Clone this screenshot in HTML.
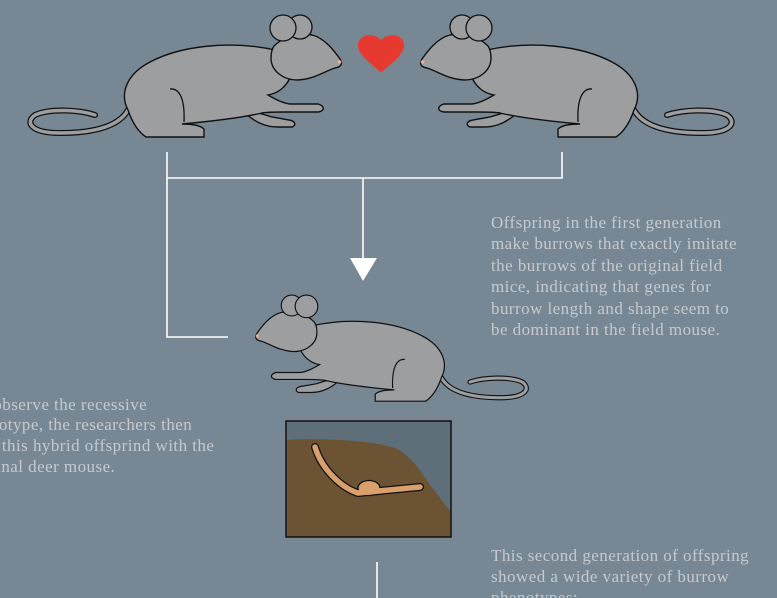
<!DOCTYPE html>
<html><head><meta charset="utf-8"><style>
html,body{margin:0;padding:0;background:#778894;width:777px;height:598px;overflow:hidden}
svg{display:block}
text{font-family:"Liberation Serif",serif;font-size:17px;letter-spacing:0.45px;fill:#c6cace}
</style></head><body>
<svg width="777" height="598" viewBox="0 0 777 598">
<defs>
<g id="mouse">
  <path d="M128,110 C118,128 90,133 60,133 C30,133 25,122 35,115 C50,108 80,110 95,115" fill="none" stroke="#111" stroke-width="6" stroke-linecap="round"/>
  <path d="M128,110 C118,128 90,133 60,133 C30,133 25,122 35,115 C50,108 80,110 95,115" fill="none" stroke="#9d9ea0" stroke-width="3.5" stroke-linecap="round"/>
  <path d="M245,113 C255,122 265,127 278,127 L292,127 C297,125 295,121 289,120 L272,117 C262,114 255,112 250,110 Z" fill="#9d9ea0" stroke="#111" stroke-width="1.4"/>
  <path d="M290,78 C285,88 278,93 268,95 C275,99 282,103 290,104 L318,104 C325,106 325,111 318,112 L285,112 C275,112 268,112 262,113 C245,117 215,121 182,124 C192,124 200,125 204,129 L204,137 L146,137 C140,133 133,125 128,110 C120,95 125,75 150,62 C180,46 230,40 275,50 Z" fill="#9d9ea0" stroke="#111" stroke-width="1.4"/>
  <path d="M170,89 C180,88 185,100 184,122" fill="none" stroke="#111" stroke-width="1.3"/>
  <path d="M274,46 C285,35 300,33 312,35 C325,38 335,52 340,59 C343,64 341,67 335,68 C325,71 315,79 298,80 C282,80 271,70 271,58 C271,53 272,49 274,46 Z" fill="#9d9ea0" stroke="#111" stroke-width="1.4"/>
  <circle cx="300" cy="27" r="12" fill="#9d9ea0" stroke="#111" stroke-width="1.3"/>
  <circle cx="283" cy="28" r="13" fill="#9d9ea0" stroke="#111" stroke-width="1.3"/>
  <circle cx="339.5" cy="62" r="1.8" fill="#e8b090"/>
</g>
</defs>
<use href="#mouse"/>
<use href="#mouse" transform="translate(762,0) scale(-1,1)"/>
<path d="M381,70 C372,62 358,52 360,44 C362,36 374,34 381,43 C388,34 400,36 402,44 C404,52 390,62 381,70 Z" fill="#e63a30" stroke="#e63a30" stroke-width="4" stroke-linejoin="round"/>
<g stroke="#fff" stroke-width="1.6" fill="none">
  <path d="M167,152 V337 H228"/>
  <path d="M167,178 H562 V152"/>
  <path d="M363,178 V260"/>
  <path d="M377,562 V598"/>
</g>
<path d="M350,258 L377,258 L363,281 Z" fill="#fff"/>
<use href="#mouse" transform="translate(552.7,282) scale(-0.87,0.87)"/>
<g>
  <rect x="286" y="421" width="165" height="116" fill="#5f6f79"/>
  <path d="M287,440 C320,438 370,440 395,448 C410,455 420,470 430,485 C438,495 445,505 451,512 L451,537 L287,537 Z" fill="#6b5333"/>
  <path d="M315,447 C322,470 342,488 358,493 L420,487" fill="none" stroke="#111" stroke-width="8" stroke-linecap="round" stroke-linejoin="round"/>
  <ellipse cx="369" cy="488" rx="11" ry="7.5" fill="#d9a06c" stroke="#111" stroke-width="1.3"/>
  <path d="M315,447 C322,470 342,488 358,493 L420,487" fill="none" stroke="#d9a06c" stroke-width="5.5" stroke-linecap="round" stroke-linejoin="round"/>
  <ellipse cx="369" cy="488" rx="10" ry="6.5" fill="#d9a06c"/>
  <rect x="286" y="421" width="165" height="116" fill="none" stroke="#111" stroke-width="1.5"/>
</g>
<g>
  <text x="491" y="228">Offspring in the first generation</text>
  <text x="491" y="249">make burrows that exactly imitate</text>
  <text x="491" y="271">the burrows of the original field</text>
  <text x="491" y="292">mice, indicating that genes for</text>
  <text x="491" y="314">burrow length and shape seem to</text>
  <text x="491" y="335">be dominant in the field mouse.</text>
</g>
<g>
  <text x="-30" y="410">To observe the recessive</text>
  <text x="-36" y="430">phenotype, the researchers then</text>
  <text x="-40" y="451">cross this hybrid offsprind with the</text>
  <text x="-33" y="472">original deer mouse.</text>
</g>
<g>
  <text x="491" y="561">This second generation of offspring</text>
  <text x="491" y="582">showed a wide variety of burrow</text>
  <text x="491" y="603">phenotypes:</text>
</g>
</svg>
</body></html>
